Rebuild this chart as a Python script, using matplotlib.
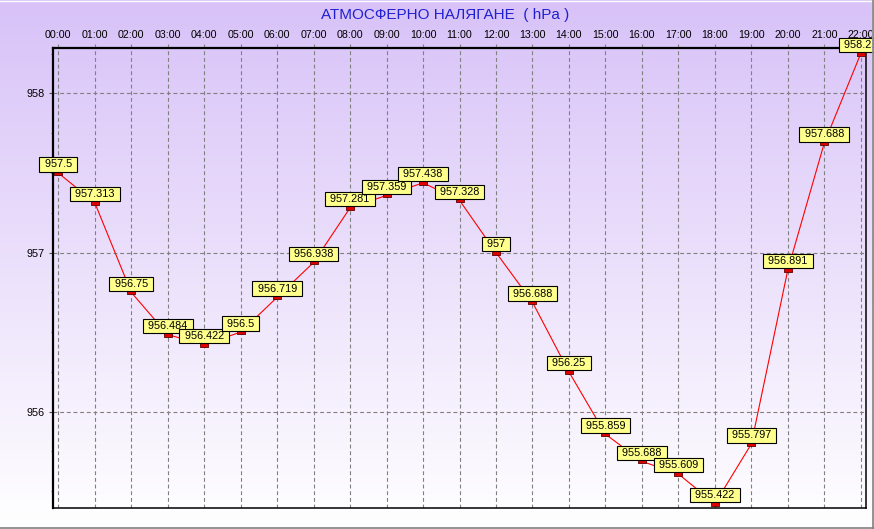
import numpy as np
import matplotlib
matplotlib.use("Agg")
import matplotlib.pyplot as plt
from matplotlib.path import Path
from matplotlib.lines import Line2D
from matplotlib.ticker import MultipleLocator, FixedLocator

hours = ["00:00", "01:00", "02:00", "03:00", "04:00", "05:00", "06:00", "07:00",
         "08:00", "09:00", "10:00", "11:00", "12:00", "13:00", "14:00", "15:00",
         "16:00", "17:00", "18:00", "19:00", "20:00", "21:00", "22:00"]
pressure = [957.5, 957.313, 956.75, 956.484, 956.422, 956.5, 956.719, 956.938,
            957.281, 957.359, 957.438, 957.328, 957, 956.688, 956.25, 955.859,
            955.688, 955.609, 955.422, 955.797, 956.891, 957.688, 958.25]
labels = ["957.5", "957.313", "956.75", "956.484", "956.422", "956.5", "956.719", "956.938",
          "957.281", "957.359", "957.438", "957.328", "957", "956.688", "956.25", "955.859",
          "955.688", "955.609", "955.422", "955.797", "956.891", "957.688", "958.25"]
y_ticks = [956, 957, 958]
title = "АТМОСФЕРНО НАЛЯГАНЕ  ( hPa )"

plt.rcParams['font.family'] = ['Liberation Sans', 'DejaVu Sans']

W, H = 874, 529
fig = plt.figure(figsize=(W / 100, H / 100), dpi=100)

# background gradient
bg = fig.add_axes([0, 0, 1, 1], zorder=-10)
top = np.array([216, 194, 248]) / 255.0
bot = np.array([255, 255, 255]) / 255.0
t = np.linspace(0, 1, 256)[:, None]
grad = top[None, :] * (1 - t) + bot[None, :] * t
bg.imshow(grad[:, None, :], aspect='auto', extent=[0, 1, 0, 1], origin='upper')
bg.set_xlim(0, 1)
bg.set_ylim(0, 1)
bg.axis('off')

ax = fig.add_axes([53 / W, 1 - 508 / H, (865.5 - 53) / W, (508 - 48) / H])
ax.set_facecolor('none')

x = np.arange(len(hours))

rect = Path([(-1, -0.5), (1, -0.5), (1, 0.5), (-1, 0.5), (-1, -0.5)],
            [Path.MOVETO, Path.LINETO, Path.LINETO, Path.LINETO, Path.CLOSEPOLY])

ax.plot(x, pressure, color='#ff0000', lw=0.8, zorder=3)
ax.plot(x, pressure, linestyle='none', marker=rect, markersize=6,
        markerfacecolor='#e00000', markeredgecolor='#600000', markeredgewidth=0.6, zorder=4)

for xi, yi, lab in zip(x, pressure, labels):
    ax.annotate(f" {lab} ", (xi, yi), xytext=(0, 2.6), textcoords='offset points',
                ha='center', va='bottom', fontsize=7.8, color='black',
                bbox=dict(boxstyle='square,pad=0.2', fc='#ffff8c', ec='black', lw=0.8),
                annotation_clip=False, zorder=5)

ax.set_xlim(-0.145, 22.13)
ax.set_ylim(955.395, 958.285)

ax.xaxis.set_major_locator(FixedLocator(x))
ax.set_xticklabels(hours)
ax.xaxis.tick_top()
ax.tick_params(axis='x', which='major', length=3, color='#808080', pad=2.5,
               labelsize=7.7, top=True, bottom=False)

ax.yaxis.set_major_locator(FixedLocator(y_ticks))
ax.set_yticklabels([str(v) for v in y_ticks])
ax.yaxis.set_minor_locator(MultipleLocator(0.25))
ax.tick_params(axis='y', which='major', length=3, pad=3, labelsize=7.8, color='#505050')
ax.tick_params(axis='y', which='minor', length=1.5, color='#505050')

ax.grid(True, which='major', color='#808080', linestyle=(0, (3.5, 2.5)), lw=0.8)

for side in ['left', 'top']:
    ax.spines[side].set_linewidth(1.6)
for side in ['right', 'bottom']:
    ax.spines[side].set_linewidth(1.1)

fig.text(445 / W, 1 - 14.5 / H, title, ha='center', va='center', fontsize=11, color='#2020d0')

# window-like border
fig.add_artist(Line2D([0, 1], [1 - 0.5 / H, 1 - 0.5 / H], color='white', lw=1, transform=fig.transFigure))
fig.add_artist(Line2D([1 - 2.5 / W, 1 - 2.5 / W], [0, 1], color='white', lw=0.8, transform=fig.transFigure))
fig.add_artist(Line2D([1 - 1 / W, 1 - 1 / W], [0, 1], color='#808080', lw=1.2, transform=fig.transFigure))
fig.add_artist(Line2D([0, 1], [1.5 / H, 1.5 / H], color='#808080', lw=1.2, transform=fig.transFigure))

fig.savefig('out.png', dpi=100)
